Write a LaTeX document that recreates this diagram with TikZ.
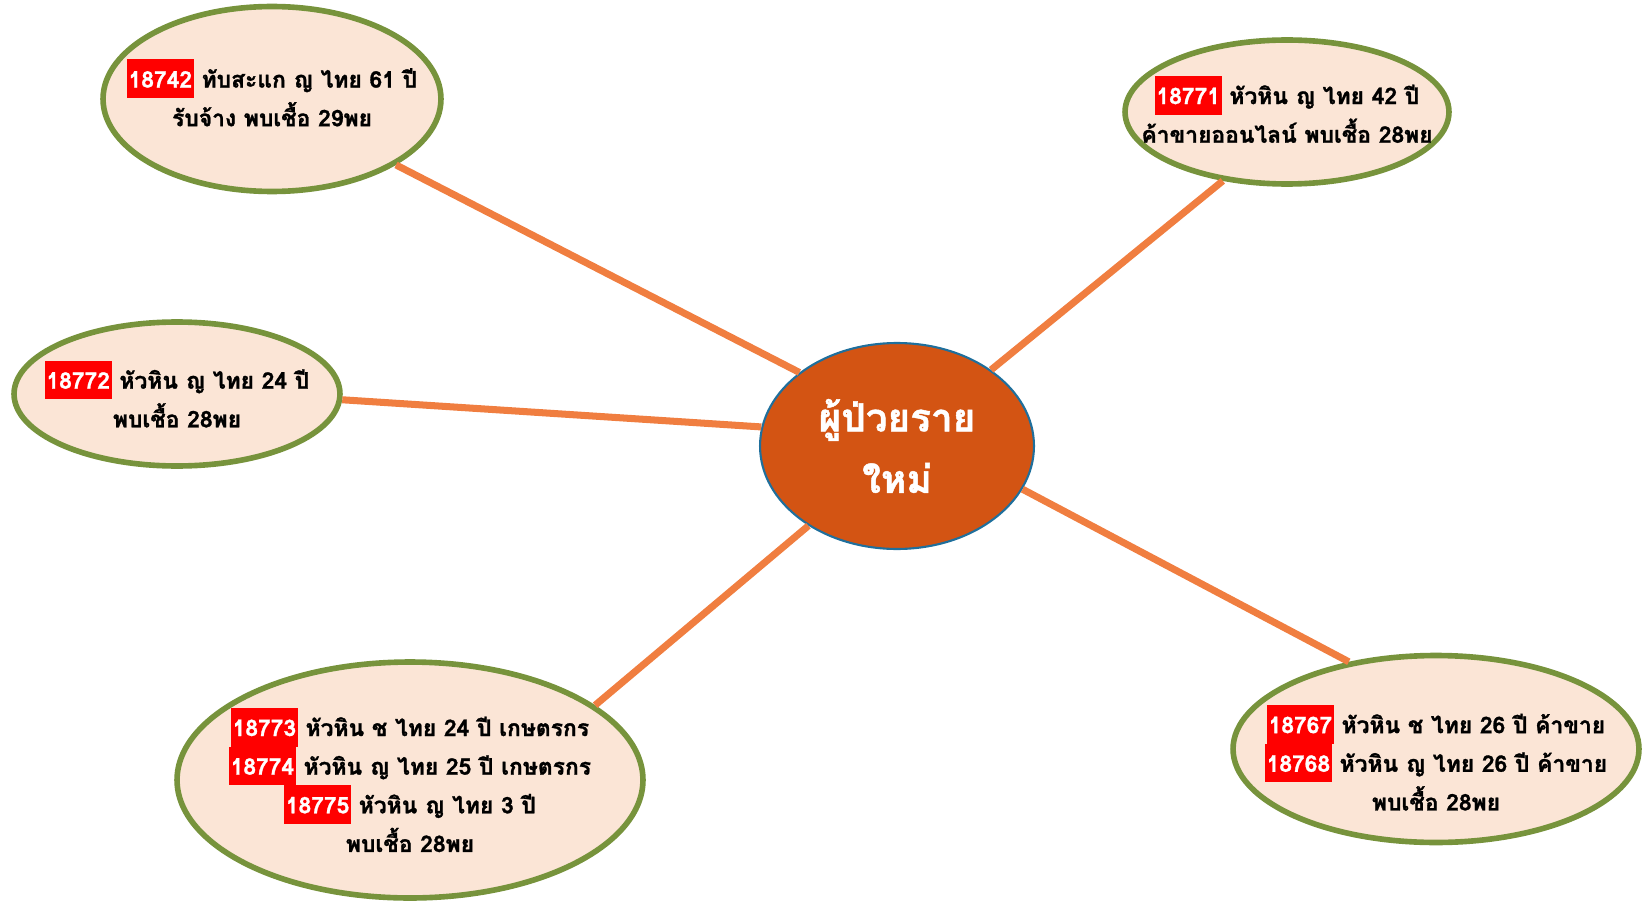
\documentclass[tikz,border=0pt]{standalone}
\usepackage{fontspec}
\newfontfamily\thaifont[Script=Thai, BoldFeatures={FakeBold=1.2}]{Loma}
\usetikzlibrary{shapes.geometric}

\definecolor{peach}{HTML}{FBE5D6}
\definecolor{leafgreen}{HTML}{77933C}
\definecolor{rust}{HTML}{D35413}
\definecolor{deepblue}{HTML}{1F6F9C}
\definecolor{linkorange}{HTML}{F07E40}
\definecolor{idred}{HTML}{FF0000}

% red tag with white case number
\newcommand{\caseid}[1]{{\setlength{\fboxsep}{0pt}\colorbox{idred}{\textcolor{white}{\rule[-6pt]{0pt}{22pt}\hspace{1pt}#1\hspace{1pt}}}}}
% invisible struts to nudge a text block up (depth) or down (height)
\newcommand{\nudgeup}[1]{\rule[-#1]{0pt}{0pt}}
\newcommand{\nudgedown}[1]{\rule{0pt}{#1}}

\begin{document}
\begin{tikzpicture}[
            x = 0.02cm, y = -0.02cm, % one unit = one pixel
            inner sep = 0pt,
            semithick % line style
        ]

        \tikzstyle{case}=[
            ellipse,
            draw = leafgreen,
            line width = 3.2pt,
            fill = peach,
            inner xsep = -0.7cm, % let the text run close to the rim
            align = center,
            font = \thaifont\bfseries\fontsize{13}{22}\selectfont
        ]
        \tikzstyle{hub}=[
            ellipse,
            draw = deepblue,
            line width = 1.2pt,
            fill = rust,
            text = white,
            align = center,
            minimum width = 5.48cm,
            minimum height = 4.12cm,
            font = \thaifont\bfseries\fontsize{22}{35}\selectfont
        ]
        \tikzstyle{link}=[
            draw = linkorange,
            line width = 4pt
        ]

        \useasboundingbox (0,0) rectangle (1652,902);

        \node[hub] (hub) at (897,446) {ผู้ป่วยราย\\ใหม่};

        \node[case, minimum width=6.76cm, minimum height=3.70cm] (tl) at (272,99)
            {\caseid{18742} ทับสะแก ญ ไทย 61 ปี\\รับจ้าง พบเชื้อ 29พย\nudgeup{7pt}};
        \node[case, minimum width=6.48cm, minimum height=2.88cm] (tr) at (1287,112)
            {\caseid{18771} หัวหิน ญ ไทย 42 ปี\\ค้าขายออนไลน์ พบเชื้อ 28พย\nudgeup{3pt}};
        \node[case, minimum width=6.52cm, minimum height=2.88cm] (l) at (177,394)
            {\caseid{18772} หัวหิน ญ ไทย 24 ปี\\พบเชื้อ 28พย};
        \node[case, minimum width=9.32cm, minimum height=4.72cm] (bl) at (410,780)
            {\caseid{18773} หัวหิน ช ไทย 24 ปี เกษตรกร\\
             \caseid{18774} หัวหิน ญ ไทย 25 ปี เกษตรกร\\
             \caseid{18775} หัวหิน ญ ไทย 3 ปี\\
             พบเชื้อ 28พย};
        \node[case, minimum width=8.12cm, minimum height=3.74cm] (br) at (1436,749)
            {\nudgedown{26pt}\caseid{18767} หัวหิน ช ไทย 26 ปี ค้าขาย\\
             \caseid{18768} หัวหิน ญ ไทย 26 ปี ค้าขาย\\
             พบเชื้อ 28พย};

        % leaf / angle on hub / angle on leaf
        \foreach \leaf/\from/\to in {tl/143/332, tr/39/227, l/172/358, bl/222/22, br/341/135}
            \path[link] (hub.\from) -- (\leaf.\to);

    \end{tikzpicture}
\end{document}
